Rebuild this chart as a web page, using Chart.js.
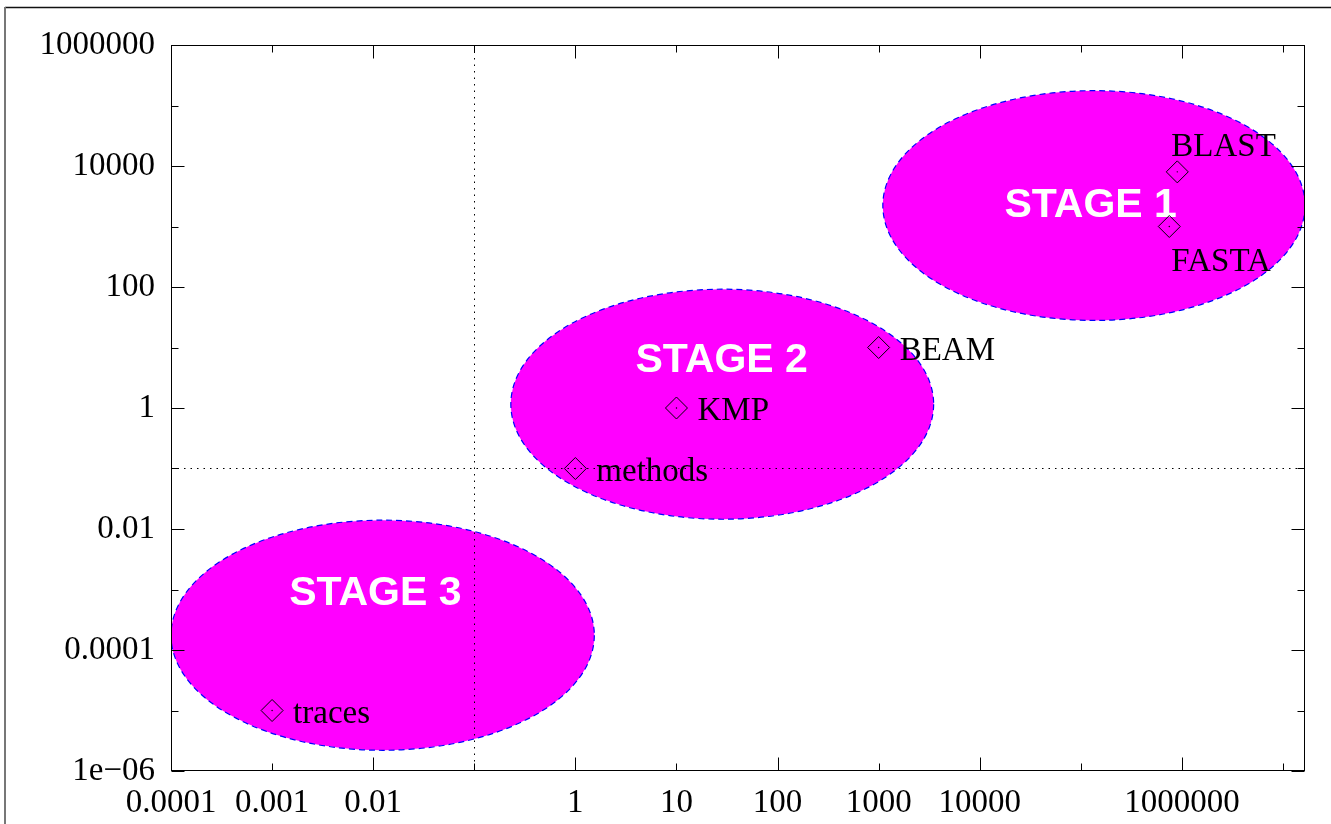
<!DOCTYPE html>
<html>
<head>
<meta charset="utf-8">
<script src="https://cdn.jsdelivr.net/npm/chart.js@4"></script>
<style>
  html, body { margin: 0; padding: 0; background: #fff; }
  #wrap { width: 1331px; height: 824px; position: relative; }
</style>
</head>
<body>
<div id="wrap"><canvas id="chart"></canvas></div>
<script>
// measured points (log-log)
const pointNames = ["BLAST", "FASTA", "BEAM", "KMP", "methods", "traces"];
const pointX = [9e5, 7.5e5, 1000, 10, 1, 0.001];
const pointY = [8000, 1000, 10, 1, 0.1, 1e-5];

// stage regions (ellipses), given by their bounding values
const stageNames = ["STAGE 1", "STAGE 2", "STAGE 3"];
const stageXMin = [1100, 0.23, 1e-4];
const stageXMax = [1.65e7, 3500, 1.54];
const stageYMin = [28, 0.0145, 2.2e-6];
const stageYMax = [1.76e5, 92, 0.014];
const stageLabelX = [1.25e5, 28, 0.0105];
const stageLabelY = [2500, 7, 0.001];

// dotted threshold lines
const thresholdX = 0.1;
const thresholdY = 0.1;

// axes
const xMin = 1e-4, xMax = 1.65e7;
const yMin = 1e-6, yMax = 1e6;
const xTickValues = [1e-4, 1e-3, 1e-2, 1e-1, 1, 10, 100, 1000, 1e4, 1e5, 1e6, 1e7];
const xTickLabels = ["0.0001", "0.001", "0.01", "", "1", "10", "100", "1000", "10000", "", "1000000", ""];
const yTickValues = [1e-6, 1e-5, 1e-4, 1e-3, 1e-2, 1e-1, 1, 10, 100, 1000, 1e4, 1e5, 1e6];
const yTickLabels = ["1e\u221206", "", "0.0001", "", "0.01", "", "1", "", "100", "", "10000", "", "1000000"];

const serif = "'Liberation Serif', 'Times New Roman', serif";
const sans = "'Liberation Sans', Arial, sans-serif";

// which side of the marker each name sits on (default: right)
const labelSide = { BLAST: "above", FASTA: "below" };

const stagePlugin = {
  id: "stages",
  beforeDraw(chart) {
    const ctx = chart.ctx;
    ctx.save();
    // page frame (top and left edges)
    ctx.strokeStyle = "#111";
    ctx.lineWidth = 1.5;
    ctx.beginPath();
    ctx.moveTo(5, 7.5); ctx.lineTo(1331, 7.5);
    ctx.stroke();
    ctx.strokeStyle = "#777";
    ctx.lineWidth = 2;
    ctx.beginPath();
    ctx.moveTo(5, 7); ctx.lineTo(5, 824);
    ctx.stroke();
    ctx.restore();
  },
  beforeDatasetsDraw(chart) {
    const { ctx, chartArea: a, scales: { x, y } } = chart;
    ctx.save();
    ctx.beginPath();
    ctx.rect(a.left, a.top, a.right - a.left, a.bottom - a.top);
    ctx.clip();
    stageNames.forEach((name, i) => {
      const x0 = x.getPixelForValue(stageXMin[i]);
      const x1 = x.getPixelForValue(stageXMax[i]);
      const y0 = y.getPixelForValue(stageYMax[i]);
      const y1 = y.getPixelForValue(stageYMin[i]);
      ctx.beginPath();
      ctx.ellipse((x0 + x1) / 2, (y0 + y1) / 2, (x1 - x0) / 2, (y1 - y0) / 2, 0, 0, Math.PI * 2);
      ctx.fillStyle = "#ff00ff";
      ctx.fill();
      ctx.setLineDash([6, 4]);
      ctx.strokeStyle = "#0000ff";
      ctx.lineWidth = 1.2;
      ctx.stroke();
    });
    ctx.setLineDash([]);

    // dotted lines at 0.1
    ctx.strokeStyle = "#000";
    ctx.lineWidth = 1;
    ctx.setLineDash([1.5, 5]);
    const tx = Math.round(x.getPixelForValue(thresholdX)) + 0.5;
    const ty = Math.round(y.getPixelForValue(thresholdY)) + 0.5;
    ctx.beginPath();
    ctx.moveTo(tx, a.top); ctx.lineTo(tx, a.bottom);
    ctx.moveTo(a.left, ty); ctx.lineTo(a.right, ty);
    ctx.stroke();
    ctx.setLineDash([]);

    // stage names
    ctx.fillStyle = "#fff";
    ctx.font = "bold 41px " + sans;
    ctx.textAlign = "center";
    ctx.textBaseline = "alphabetic";
    stageNames.forEach((name, i) => {
      ctx.fillText(name, x.getPixelForValue(stageLabelX[i]), y.getPixelForValue(stageLabelY[i]) + 15);
    });
    ctx.restore();

    // frame and inward ticks
    ctx.save();
    ctx.strokeStyle = "#000";
    ctx.lineWidth = 1;
    const L = Math.round(a.left) + 0.5, R = Math.round(a.right) - 0.5;
    const T = Math.round(a.top) + 0.5, B = Math.round(a.bottom) - 0.5;
    ctx.strokeRect(L, T, R - L, B - T);
    ctx.beginPath();
    xTickValues.forEach(v => {
      const px = Math.round(x.getPixelForValue(v)) + 0.5;
      if (px < L || px > R + 1) return;
      const len = Math.round(Math.log10(v)) % 2 === 0 ? 13 : 7;
      ctx.moveTo(px, B); ctx.lineTo(px, B - len);
      ctx.moveTo(px, T); ctx.lineTo(px, T + len);
    });
    yTickValues.forEach(v => {
      const py = Math.round(y.getPixelForValue(v)) + 0.5;
      const len = Math.round(Math.log10(v)) % 2 === 0 ? 13 : 7;
      ctx.moveTo(L, py); ctx.lineTo(L + len, py);
      ctx.moveTo(R, py); ctx.lineTo(R - len, py);
    });
    ctx.stroke();
    ctx.restore();
  },
  afterDatasetsDraw(chart) {
    const { ctx, scales: { x, y } } = chart;
    ctx.save();
    ctx.fillStyle = "#000";
    ctx.font = "33px " + serif;
    ctx.textAlign = "left";
    ctx.textBaseline = "alphabetic";
    pointNames.forEach((name, i) => {
      const px = x.getPixelForValue(pointX[i]);
      const py = y.getPixelForValue(pointY[i]);
      const side = labelSide[name] || "right";
      if (side === "above") ctx.fillText(name, px - 6, py - 16);
      else if (side === "below") ctx.fillText(name, px + 2, py + 44);
      else ctx.fillText(name, px + 21, py + 12);
    });
    ctx.restore();
  }
};

const points = pointX.map((v, i) => ({ x: v, y: pointY[i] }));

new Chart(document.getElementById("chart"), {
  type: "scatter",
  data: {
    datasets: [
      {
        data: points,
        pointStyle: "rectRot",
        pointRadius: 11,
        pointBorderColor: "#000",
        pointBorderWidth: 1,
        pointBackgroundColor: "rgba(0,0,0,0)"
      },
      {
        data: points,
        pointStyle: "circle",
        pointRadius: 0.7,
        pointBorderWidth: 0,
        pointBackgroundColor: "#000"
      }
    ]
  },
  options: {
    responsive: true,
    maintainAspectRatio: false,
    animation: false,
    events: [],
    layout: { padding: { top: 45, right: 26, left: 0, bottom: 0 } },
    plugins: { legend: { display: false }, tooltip: { enabled: false } },
    scales: {
      x: {
        type: "logarithmic",
        min: xMin,
        max: xMax,
        afterFit: s => { s.height = 53; },
        afterBuildTicks: s => { s.ticks = xTickValues.map(v => ({ value: v })); },
        grid: { display: false, drawTicks: false },
        border: { display: false },
        ticks: {
          autoSkip: false,
          maxRotation: 0,
          padding: 13,
          color: "#000",
          font: { family: serif, size: 33 },
          callback: (v, i) => xTickLabels[i]
        }
      },
      y: {
        type: "logarithmic",
        min: yMin,
        max: yMax,
        afterFit: s => { s.width = 171; },
        afterBuildTicks: s => { s.ticks = yTickValues.map(v => ({ value: v })); },
        grid: { display: false, drawTicks: false },
        border: { display: false },
        ticks: {
          autoSkip: false,
          padding: 16,
          color: "#000",
          font: { family: serif, size: 33 },
          callback: (v, i) => yTickLabels[i]
        }
      }
    }
  },
  plugins: [stagePlugin]
});
</script>
</body>
</html>
